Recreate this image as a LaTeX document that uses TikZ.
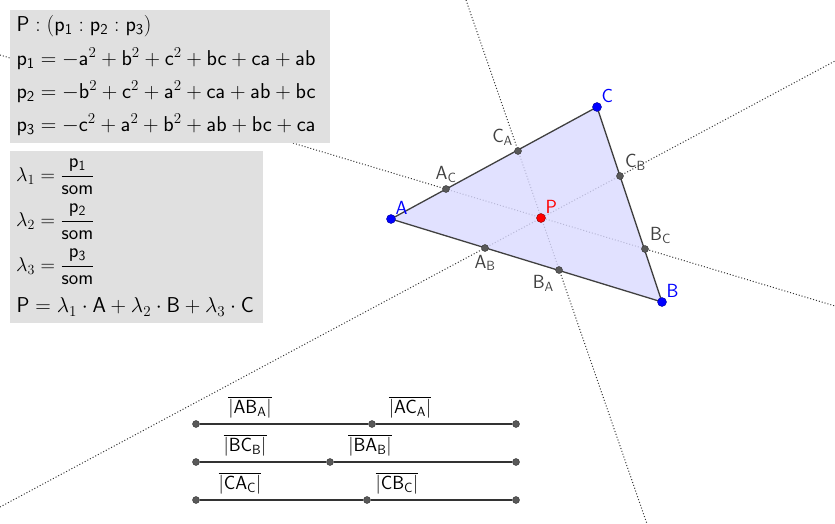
\RequirePackage{fix-cm}
\documentclass[tikz,border=0pt]{standalone}
\usepackage{amsmath}
\usetikzlibrary{calc,positioning}
\newcommand{\sv}[1]{\mathsf{#1}}
\newcommand{\bigtext}{\fontsize{21.5}{25}\selectfont}
\newcommand{\fractext}{\fontsize{20}{23}\selectfont}
\newcommand{\ptext}{\fontsize{19}{22}\selectfont}
\begin{document}
\begin{tikzpicture}[x=1pt,y=-1pt,font=\sffamily\bigtext]
  \tikzstyle{pt node}=[circle,draw=black!80,fill=black!65,inner sep=0,minimum size=7pt]
  \tikzstyle{vx node}=[circle,draw=blue!60!black,fill=blue,inner sep=0,minimum size=9pt]
  \tikzstyle{lbl}=[text=black!75,inner sep=1pt,label distance=2pt,font=\sffamily\ptext]
  \tikzstyle{vlbl}=[text=blue,inner sep=1pt,font=\sffamily\ptext]
  \tikzstyle{box}=[fill=black!12,inner sep=0]
  \tikzstyle{ceva}=[dotted,line width=1pt,black!80]
  \useasboundingbox (0,0) rectangle (835,524);
  % Cevians
  \coordinate (l1a) at (0,55);   \coordinate (l1b) at (835,306);
  \coordinate (l2a) at (466,0);  \coordinate (l2b) at (647,524);
  \coordinate (l3a) at (0,507);  \coordinate (l3b) at (835,61);
  \draw[ceva] (l1a) -- (l1b);
  \draw[ceva] (l2a) -- (l2b);
  \draw[ceva] (l3a) -- (l3b);
  % Triangle
  \coordinate (A) at (391,219);
  \coordinate (B) at (662,302);
  \coordinate (C) at (597,107);
  \draw[black!75,fill=blue!15,fill opacity=0.8,line width=1.3pt] (A) -- (B) -- (C) -- cycle;
  % Text boxes
  \fill[box] (10,10) rectangle (330,143);
  \fill[box] (10,151) rectangle (263,323);
  \node[anchor=west] (t1) at (13,26) {$\sv{P}:(\sv{p_1}:\sv{p_2}:\sv{p_3})$};
  \node[anchor=west] (t2) at (13,59) {$\sv{p_1}=-\sv{a}^2+\sv{b}^2+\sv{c}^2+\sv{bc}+\sv{ca}+\sv{ab}$};
  \node[anchor=west] (t3) at (13,92) {$\sv{p_2}=-\sv{b}^2+\sv{c}^2+\sv{a}^2+\sv{ca}+\sv{ab}+\sv{bc}$};
  \node[anchor=west] (t4) at (13,125) {$\sv{p_3}=-\sv{c}^2+\sv{a}^2+\sv{b}^2+\sv{ab}+\sv{bc}+\sv{ca}$};
  \node[anchor=west,font=\sffamily\fractext,inner sep=1pt] (u1) at (15,177) {$\lambda_1=\dfrac{\sv{p_1}}{\sv{som}}$};
  \node[anchor=west,font=\sffamily\fractext,inner sep=1pt] (u2) at (15,222) {$\lambda_2=\dfrac{\sv{p_2}}{\sv{som}}$};
  \node[anchor=west,font=\sffamily\fractext,inner sep=1pt] (u3) at (15,267) {$\lambda_3=\dfrac{\sv{p_3}}{\sv{som}}$};
  \node[anchor=west] (u4) at (13,307) {$\sv{P}=\lambda_1\cdot\sv{A}+\lambda_2\cdot\sv{B}+\lambda_3\cdot\sv{C}$};
  % Feet of cevians
  \node[pt node,label={[lbl]above:$\sv{A}_\sv{C}$}] (AC) at (446,189) {};
  \node[pt node,label={[lbl]above left:$\sv{C}_\sv{A}$}] (CA) at (518,151) {};
  \node[pt node,label={[lbl]above right:$\sv{C}_\sv{B}$}] (CB) at (620,176) {};
  \node[pt node,label={[lbl]above right:$\sv{B}_\sv{C}$}] (BC) at (645,249) {};
  \node[pt node,label={[lbl]below:$\sv{A}_\sv{B}$}] (AB) at (485,248) {};
  \node[pt node,label={[lbl]below left:$\sv{B}_\sv{A}$}] (BA) at (559,270) {};
  % Vertices and P
  \node[vx node,label={[vlbl]above right:A}] (vA) at (A) {};
  \node[vx node,label={[vlbl]above right:B}] (vB) at (B) {};
  \node[vx node,label={[vlbl]above right:C}] (vC) at (C) {};
  \node[circle,draw=red!50!black,fill=red,inner sep=0,minimum size=9pt,
        label={[text=red,inner sep=1pt,font=\sffamily\ptext]above right:P}] (P) at (541,218) {};
  % Ratio segments
  \foreach \i/\y/\m/\xa/\xb/\la/\lb in {1/424/372/250/410/AB_A/AC_A, 2/462/330/245/370/BC_B/BA_B, 3/500/367/240/397/CA_C/CB_C} {
    \node[pt node] (s\i a) at (196,\y) {};
    \node[pt node] (s\i m) at (\m,\y) {};
    \node[pt node] (s\i b) at (516,\y) {};
    \draw[black!80,line width=1.3pt] (s\i a) -- (s\i m) -- (s\i b);
    \node[anchor=south,font=\sffamily\ptext] (q\i a) at (\xa,\y-2) {$\overline{|\sv{\la}|}$};
    \node[anchor=south,font=\sffamily\ptext] (q\i b) at (\xb,\y-2) {$\overline{|\sv{\lb}|}$};
  }
\end{tikzpicture}
\end{document}
